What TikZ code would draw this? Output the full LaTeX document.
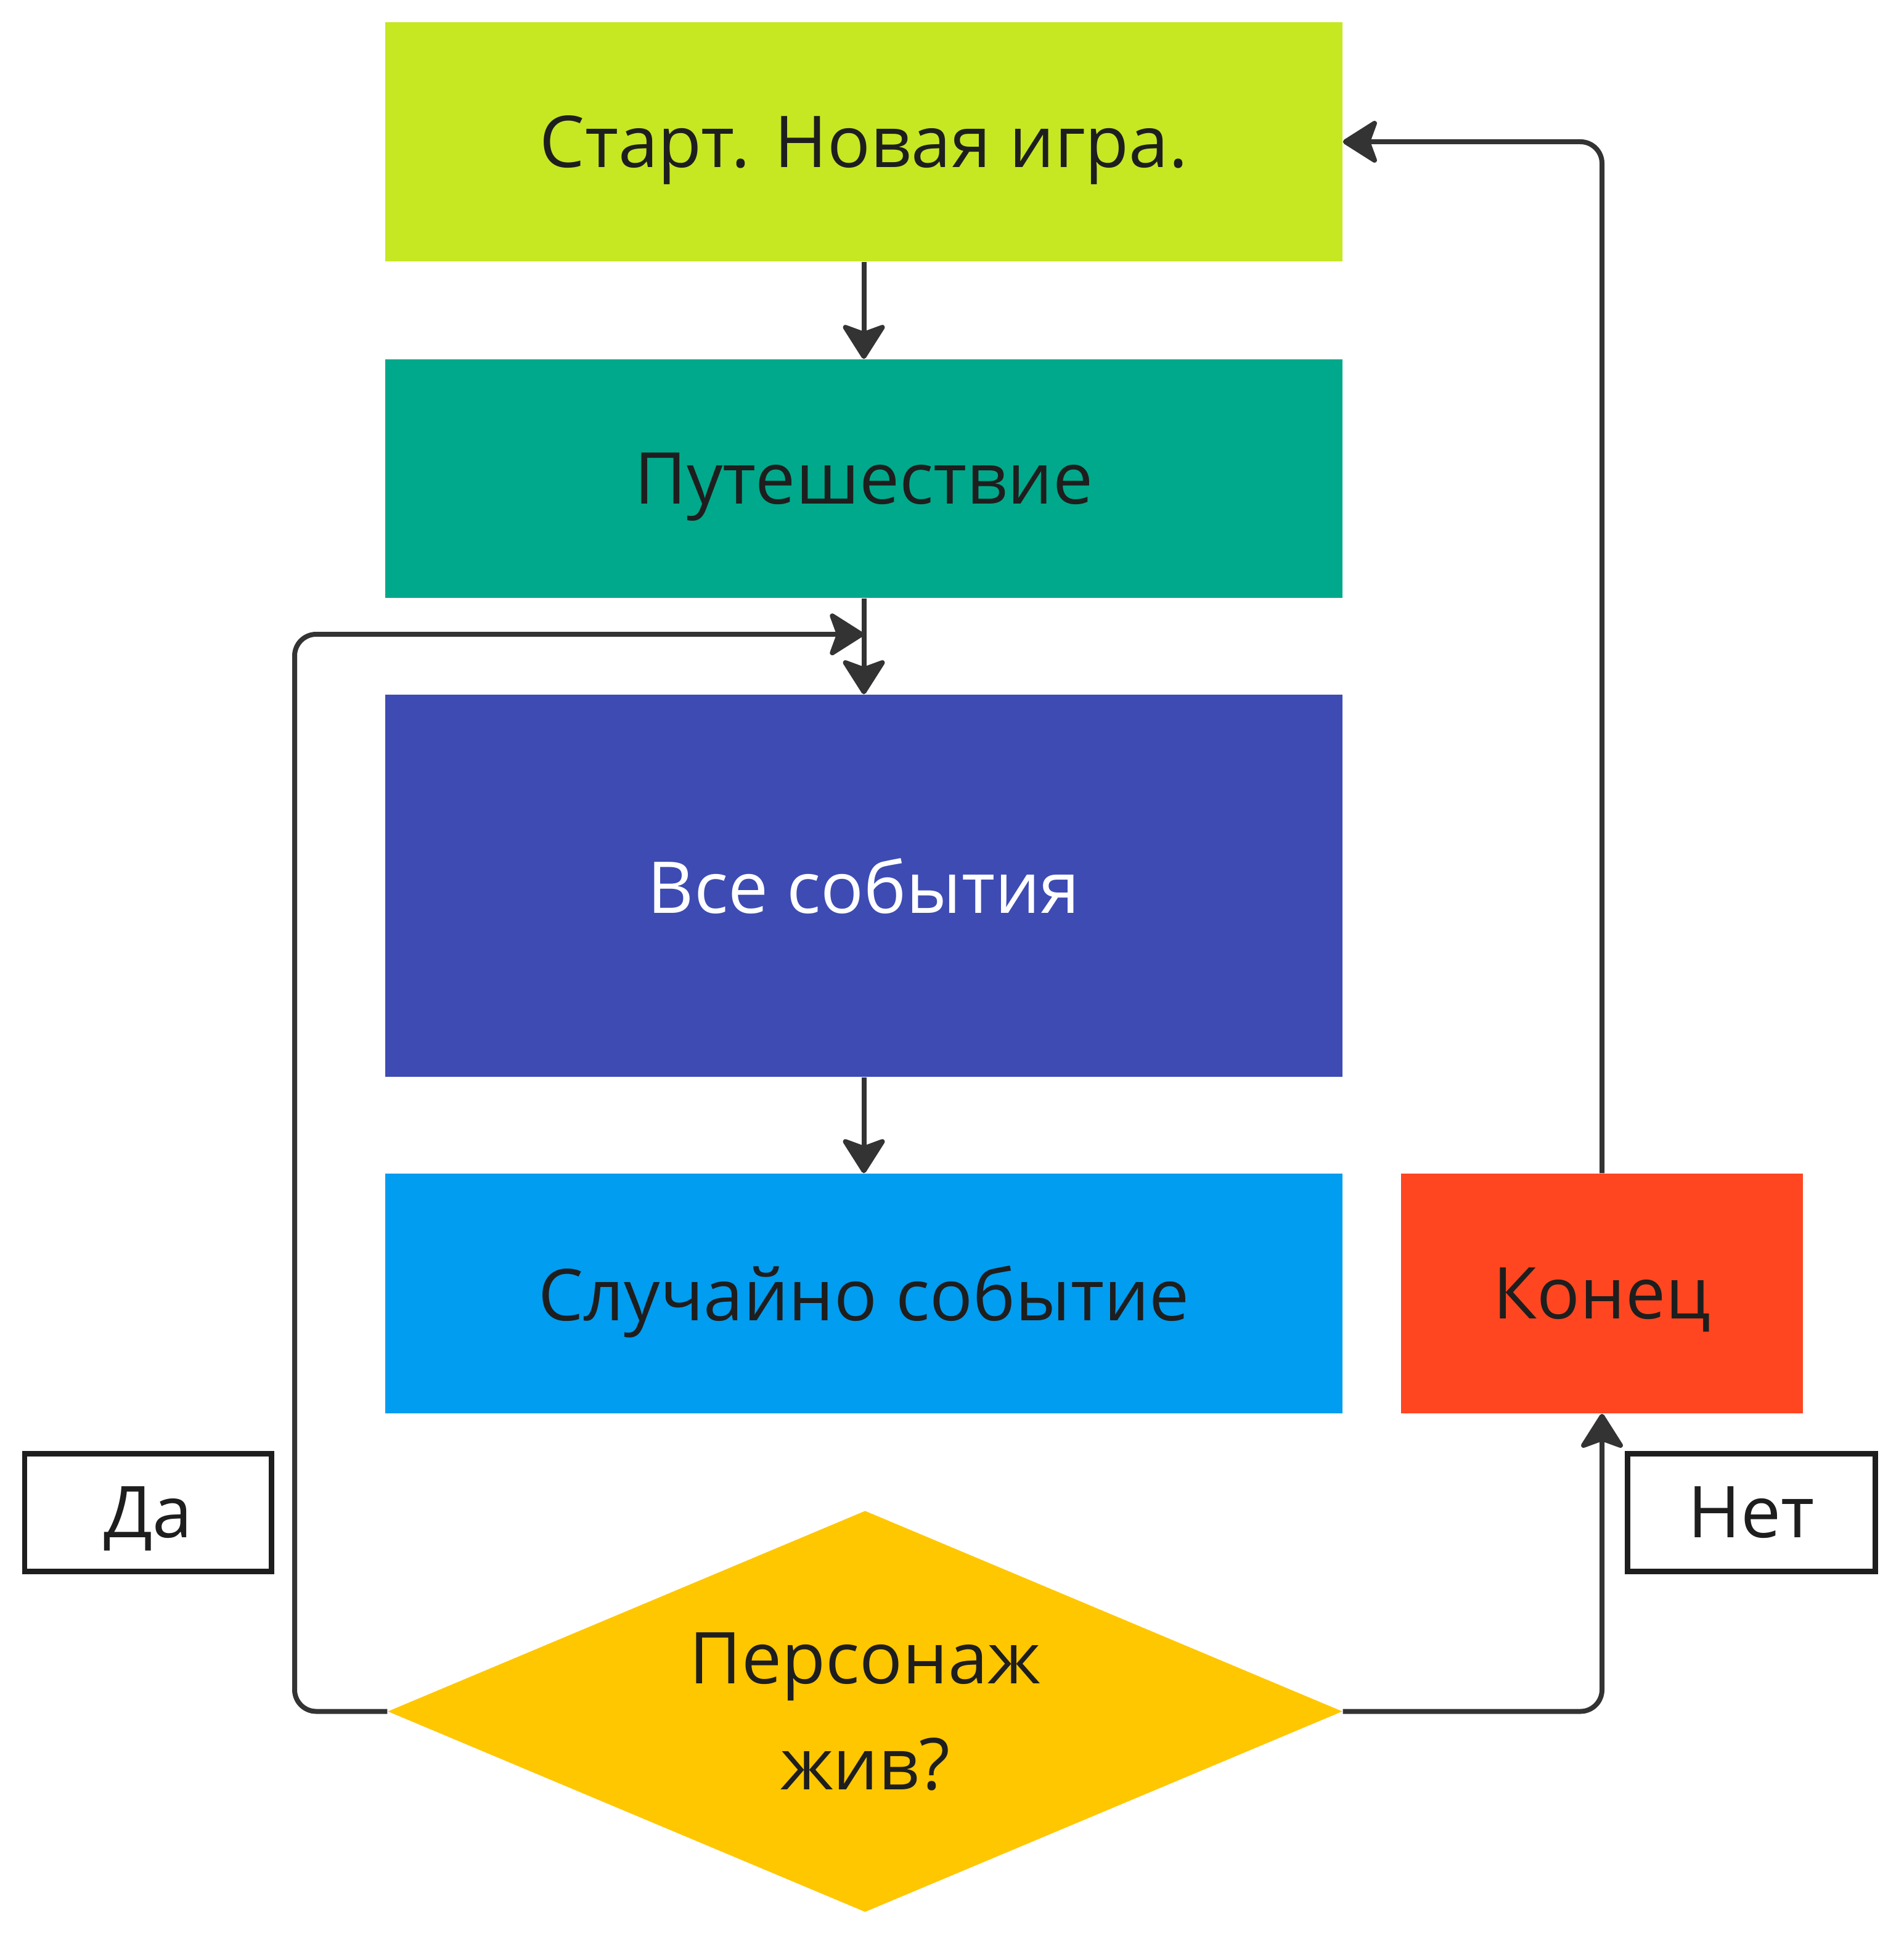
\documentclass[tikz,border=0pt]{standalone}
\usepackage{fontspec}
\setmainfont{Open Sans}
\usetikzlibrary{shapes.geometric,arrows.meta,calc}
\definecolor{cLime}{HTML}{C5E823}
\definecolor{cTeal}{HTML}{00A98B}
\definecolor{cIndigo}{HTML}{3D4BB3}
\definecolor{cSky}{HTML}{009DF0}
\definecolor{cRed}{HTML}{FF4620}
\definecolor{cGold}{HTML}{FFC700}
\definecolor{cInk}{HTML}{1E1E1E}
\definecolor{cLine}{HTML}{333333}
\tikzset{
  box/.style={rectangle, inner sep=0pt, minimum width=15.53cm, text=cInk,
    text depth=0pt, font=\fontsize{33}{45}\selectfont},
  tag/.style={rectangle, draw=cInk, line width=0.09cm, fill=white, inner sep=0pt,
    minimum height=1.91cm, text=cInk, text depth=0pt, font=\fontsize{33}{45}\selectfont},
  conn/.style={draw=cLine, line width=0.08cm, rounded corners=0.35cm,
    -{Stealth[length=0.62cm, width=0.78cm, inset=0.14cm, round]}}
}
\begin{document}
\begin{tikzpicture}
\useasboundingbox[fill=white] (0,0) rectangle (30.88,-31.62);
\node[box, fill=cLime, minimum height=3.88cm] (start) at (14.015,-2.30) {Старт. Новая игра.};
\node[box, fill=cTeal, minimum height=3.87cm] (travel) at (14.015,-7.765) {Путешествие};
\node[box, fill=cIndigo, minimum height=6.20cm, text=white] (all) at (14.015,-14.37) {Все события};
\node[box, fill=cSky, minimum height=3.89cm] (rand) at (14.015,-20.985) {Случайно событие};
\node[box, fill=cRed, minimum width=6.52cm, minimum height=3.89cm] (konec) at (25.99,-20.985) {Конец};
\node[diamond, fill=cGold, inner sep=0pt, aspect=2.38, minimum width=15.49cm, minimum height=6.51cm,
  text=cInk, align=center, font=\fontsize{33}{49}\selectfont] (alive) at (14.035,-27.765) {Персонаж\\жив?};
\node[tag, minimum width=4.00cm] (yes) at (2.40,-24.535) {Да};
\node[tag, minimum width=4.02cm] (no) at (28.41,-24.535) {Нет};
\coordinate (join) at ($(travel.south)!0.376!(all.north)$);
\draw[conn] (start.south) -- (travel.north);
\draw[conn] (travel.south) -- (all.north);
\draw[conn] (all.south) -- (rand.north);
\draw[conn] (alive.west) -- (4.78,-27.765) -- (4.78,-10.29) -- (join);
\draw[conn] (alive.east) -| (konec.south);
\draw[conn] (konec.north) |- (start.east);
\end{tikzpicture}
\end{document}
